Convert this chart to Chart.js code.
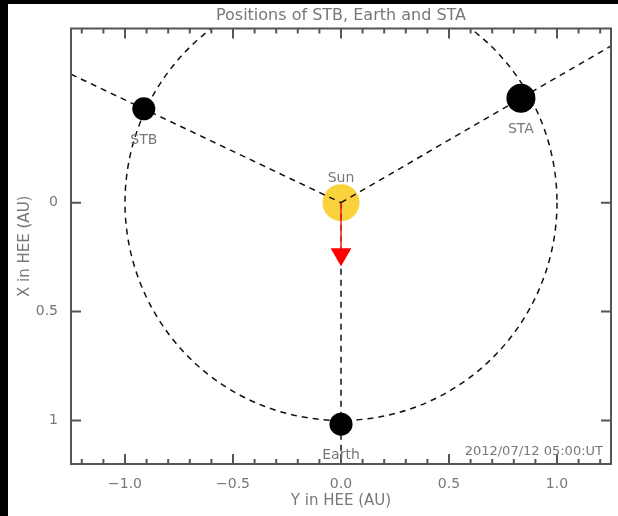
<!DOCTYPE html>
<html>
<head>
<style>
  body { margin: 0; background: #000; }
  #wrap { position: absolute; left: 8px; top: 4px; width: 610px; height: 512px; background: #fff; }
</style>
</head>
<body>
<div id="wrap"><canvas id="myChart"></canvas></div>

<script src="https://cdn.jsdelivr.net/npm/chart.js"></script>
<script>
// axis ticks (AU)
const xMajorTicks = [-1.0, -0.5, 0.0, 0.5, 1.0];
const xMinorTicks = [-1.2, -1.1, -0.9, -0.8, -0.7, -0.6, -0.4, -0.3, -0.2, -0.1,
                     0.1, 0.2, 0.3, 0.4, 0.6, 0.7, 0.8, 0.9, 1.1, 1.2];
const yMajorTicks = [0, 0.5, 1];

// bodies: horizontal = Y in HEE, vertical = X in HEE
const bodyNames = ['STB', 'Earth', 'STA'];
const bodyY = [-0.913, 0.0, 0.833];
const bodyX = [-0.431, 1.017, -0.480];
const bodySize = [11.5, 11.5, 14.5];

// dashed lines from the Sun out to the plot edge
const stbLineY = [-1.25, 0];
const stbLineX = [-0.59, 0];
const staLineY = [0, 1.25];
const staLineX = [0, -0.72];
const earthLineY = [0, 0];
const earthLineX = [0, 1.2];

const orbitRadius = 1.0;

// red arrow (Sun -> Earth direction)
const arrowY = [0, 0];
const arrowX = [0, 0.23];
const arrowHeadX = 0.237;

const dateText = '2012/07/12 05:00:UT';

const ctx = document.getElementById('myChart').getContext('2d');
const dash = [6, 5];
const textColor = '#777';
const fontFamily = '"DejaVu Sans", sans-serif';

function pts(ys, xs) {
    return ys.map((v, i) => ({x: v, y: xs[i]}));
}

function fmtX(v) {
    let s = Math.abs(v).toFixed(1);
    return v < 0 ? '\u2212' + s : s;
}

const overlay = {
    id: 'overlay',
    beforeDatasetsDraw(chart) {
        const {ctx, chartArea: a, scales: {x, y}} = chart;
        ctx.save();
        ctx.beginPath();
        ctx.rect(a.left, a.top, a.right - a.left, a.bottom - a.top);
        ctx.clip();
        const cx = x.getPixelForValue(0);
        const cy = y.getPixelForValue(0);
        const rx = x.getPixelForValue(orbitRadius) - cx;
        const ry = y.getPixelForValue(orbitRadius) - cy;
        ctx.setLineDash(dash);
        ctx.lineWidth = 1.5;
        ctx.strokeStyle = '#111';
        ctx.beginPath();
        ctx.ellipse(cx, cy, rx, ry, 0, 0, Math.PI * 2);
        ctx.stroke();
        ctx.restore();
    },
    afterDatasetsDraw(chart) {
        const {ctx, chartArea: a, scales: {x, y}} = chart;
        ctx.save();
        // frame
        ctx.strokeStyle = '#555';
        ctx.lineWidth = 2;
        ctx.strokeRect(a.left, a.top, a.right - a.left, a.bottom - a.top);
        // inward ticks
        ctx.beginPath();
        xMajorTicks.forEach(v => {
            const px = x.getPixelForValue(v);
            ctx.moveTo(px, a.bottom); ctx.lineTo(px, a.bottom - 10);
            ctx.moveTo(px, a.top); ctx.lineTo(px, a.top + 10);
        });
        xMinorTicks.forEach(v => {
            const px = x.getPixelForValue(v);
            ctx.moveTo(px, a.bottom); ctx.lineTo(px, a.bottom - 5);
            ctx.moveTo(px, a.top); ctx.lineTo(px, a.top + 5);
        });
        yMajorTicks.forEach(v => {
            const py = y.getPixelForValue(v);
            ctx.moveTo(a.left, py); ctx.lineTo(a.left + 10, py);
            ctx.moveTo(a.right, py); ctx.lineTo(a.right - 10, py);
        });
        ctx.stroke();

        // labels
        ctx.fillStyle = textColor;
        ctx.textAlign = 'center';
        ctx.textBaseline = 'alphabetic';
        ctx.font = '14px ' + fontFamily;
        ctx.fillText('Sun', x.getPixelForValue(0), y.getPixelForValue(0) - 20.5);
        bodyNames.forEach((n, i) => {
            ctx.fillText(n, x.getPixelForValue(bodyY[i]), y.getPixelForValue(bodyX[i]) + 35);
        });

        // title
        ctx.font = '16px ' + fontFamily;
        ctx.fillText('Positions of STB, Earth and STA', (a.left + a.right) / 2, 15.5);

        // date
        ctx.font = '13px ' + fontFamily;
        ctx.textAlign = 'right';
        ctx.fillText(dateText, a.right - 8, a.bottom - 9);
        ctx.restore();
    }
};

const dashedLine = {
    showLine: true,
    borderColor: '#111',
    borderWidth: 1.5,
    borderDash: dash,
    pointRadius: 0,
    order: 3
};

const myChart = new Chart(ctx, {
    type: 'scatter',
    data: {
        datasets: [
            {
                label: 'Bodies',
                data: pts(bodyY, bodyX),
                pointRadius: bodySize,
                pointBackgroundColor: '#000',
                pointBorderWidth: 0,
                order: 0
            },
            {
                label: 'Arrow head',
                data: [{x: 0, y: arrowHeadX}],
                pointStyle: 'triangle',
                rotation: 180,
                pointRadius: 12,
                pointBackgroundColor: '#ff0000',
                pointBorderWidth: 0,
                order: 1
            },
            {
                label: 'Arrow',
                data: pts(arrowY, arrowX),
                showLine: true,
                borderColor: '#ff2020',
                borderWidth: 1.5,
                pointRadius: 0,
                order: 2
            },
            Object.assign({label: 'STB line', data: pts(stbLineY, stbLineX)}, dashedLine),
            Object.assign({label: 'STA line', data: pts(staLineY, staLineX)}, dashedLine),
            Object.assign({label: 'Earth line', data: pts(earthLineY, earthLineX)}, dashedLine),
            {
                label: 'Sun',
                data: [{x: 0, y: 0}],
                pointRadius: 18.5,
                pointBackgroundColor: '#f9d23c',
                pointBorderWidth: 0,
                order: 4
            }
        ]
    },
    options: {
        responsive: true,
        maintainAspectRatio: false,
        animation: false,
        layout: {
            autoPadding: false,
            padding: {top: 24.5, right: 7, left: 0, bottom: 0}
        },
        plugins: {
            legend: {display: false},
            tooltip: {enabled: false}
        },
        scales: {
            x: {
                type: 'linear',
                position: 'bottom',
                min: -1.25,
                max: 1.25,
                grid: {display: false},
                border: {display: false},
                afterBuildTicks: scale => {
                    scale.ticks = xMajorTicks.map(v => ({value: v}));
                },
                afterFit: scale => {
                    scale.height = 52;
                    scale.paddingLeft = 0;
                    scale.paddingRight = 0;
                },
                ticks: {
                    padding: 3.6,
                    color: textColor,
                    font: {family: fontFamily, size: 14},
                    callback: v => fmtX(v)
                },
                title: {
                    display: true,
                    text: 'Y in HEE (AU)',
                    color: textColor,
                    font: {family: fontFamily, size: 15},
                    padding: {top: 0, bottom: 5.5}
                }
            },
            y: {
                type: 'linear',
                position: 'left',
                min: -0.8,
                max: 1.2,
                reverse: true,
                grid: {display: false},
                border: {display: false},
                afterBuildTicks: scale => {
                    scale.ticks = yMajorTicks.map(v => ({value: v}));
                },
                afterFit: scale => {
                    scale.width = 63;
                    scale.paddingTop = 0;
                    scale.paddingBottom = 0;
                },
                ticks: {
                    padding: 5,
                    color: textColor,
                    font: {family: fontFamily, size: 14},
                    callback: v => String(v)
                },
                title: {
                    display: true,
                    text: 'X in HEE (AU)',
                    color: textColor,
                    font: {family: fontFamily, size: 15},
                    padding: {top: 8, bottom: 0}
                }
            }
        }
    },
    plugins: [overlay]
});
</script>

</body>
</html>
